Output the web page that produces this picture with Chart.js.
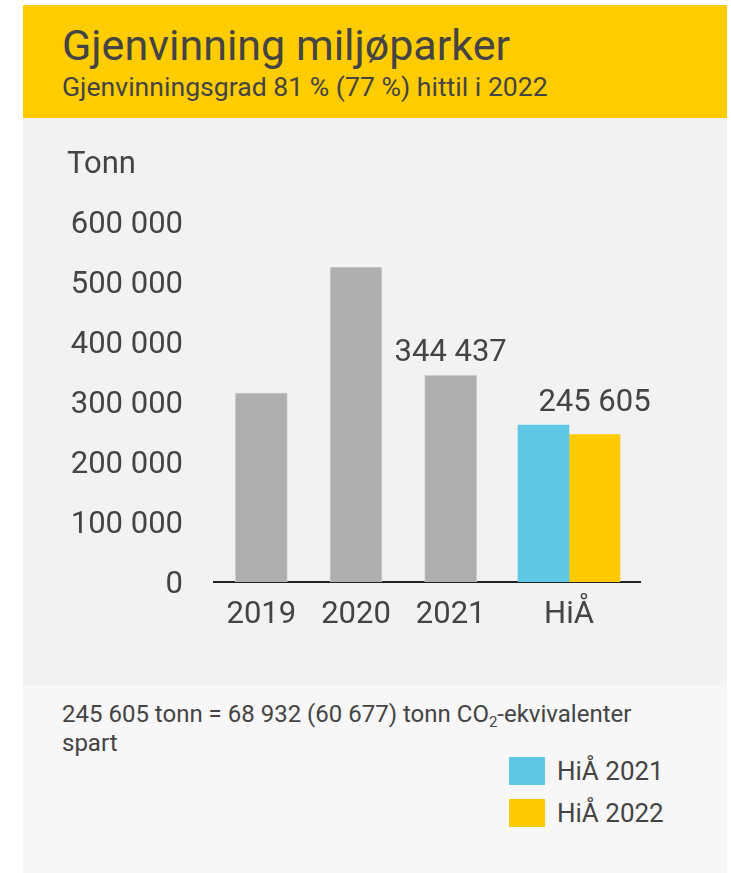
<!DOCTYPE html>
<html lang="no">
<head>
<meta charset="utf-8">
<title>Gjenvinning miljøparker</title>
<script src="https://cdn.jsdelivr.net/npm/chart.js@4"></script>
<style>
    body { margin: 0; background: #fff; font-family: Roboto, "Noto Sans", sans-serif; color: #444; }
    .card { position: absolute; left: 23px; top: 5px; width: 704px; height: 868px; }
    .header { position: absolute; left: 0; top: 0; width: 704px; height: 113px; background: #ffcc00; }
    .title { position: absolute; left: 39px; top: 19px; font-size: 43px; line-height: 1; white-space: nowrap; }
    .subtitle { position: absolute; left: 39px; top: 69px; font-size: 26.6px; line-height: 1; white-space: nowrap; }
    .panel { position: absolute; left: 0; top: 113px; width: 704px; height: 567px; background: #f2f2f2; }
    .unit { position: absolute; left: 44px; top: 29px; font-size: 31px; line-height: 1; }
    .chart-box { position: absolute; left: 0; top: 0; width: 704px; height: 567px; }
    .footer { position: absolute; left: 0; top: 680px; width: 704px; height: 188px; background: #f7f7f7; }
    .note { position: absolute; left: 39px; top: 15px; width: 590px; font-size: 24px; line-height: 29px; }
    .note sub { font-size: 15px; vertical-align: -5px; line-height: 0; }
    .legend { position: absolute; left: 486px; top: 72px; }
    .legend-item { display: flex; align-items: center; height: 28px; margin-bottom: 14px; font-size: 26px; }
    .legend-item span.box { display: inline-block; width: 36px; height: 28px; margin-right: 12px; }
</style>
</head>
<body>
<div class="card">
    <div class="header">
        <div class="title">Gjenvinning miljøparker</div>
        <div class="subtitle">Gjenvinningsgrad 81 % (77 %) hittil i 2022</div>
    </div>
    <div class="panel">
        <div class="chart-box"><canvas id="chart"></canvas></div>
        <div class="unit">Tonn</div>
    </div>
    <div class="footer">
        <div class="note">245 605 tonn = 68 932 (60 677) tonn CO<sub>2</sub>-ekvivalenter spart</div>
        <div class="legend" id="legend"></div>
    </div>
</div>
<script>
// categories and where they sit on the x axis (HiÅ group is set a bit apart)
const categories = ['2019', '2020', '2021', 'HiÅ'];
const categoryPos = [0, 1, 2, 3.25];

// values (tonn)
const yearTotals = [315000, 525000, 344437, null];
const hia2021 = [null, null, null, 261667];
const hia2022 = [null, null, null, 245605];

const yTicks = [0, 100000, 200000, 300000, 400000, 500000, 600000];

// which bars get a value label: [datasetIndex, dataIndex]
const valueLabels = [[0, 2], [2, 3]];

const TEXT = '#444';
const FONT = 'Roboto, "Noto Sans", sans-serif';

function fmt(v) {
    return String(Math.round(v)).replace(/\B(?=(\d{3})+(?!\d))/g, ' ');
}

function toPoints(values) {
    return values.map((v, i) => ({ x: categoryPos[i], y: v }));
}

// draws the numbers above the bars
const valueLabelPlugin = {
    id: 'valueLabels',
    afterDatasetsDraw(chart) {
        const ctx = chart.ctx;
        ctx.save();
        ctx.font = '31px ' + FONT;
        ctx.fillStyle = TEXT;
        ctx.textAlign = 'center';
        ctx.textBaseline = 'alphabetic';
        valueLabels.forEach(([ds, idx]) => {
            const bar = chart.getDatasetMeta(ds).data[idx];
            // sit above the tallest bar in that category
            let top = bar.y;
            chart.data.datasets.forEach((d, j) => {
                const el = chart.getDatasetMeta(j).data[idx];
                if (d.data[idx].y != null && el.y < top) top = el.y;
            });
            ctx.fillText(fmt(chart.data.datasets[ds].data[idx].y), bar.x, top - 14);
        });
        ctx.restore();
    }
};

const chart = new Chart(document.getElementById('chart'), {
    type: 'bar',
    data: {
        datasets: [
            {
                label: 'Totalt',
                data: toPoints(yearTotals),
                backgroundColor: '#afafaf',
                borderColor: '#cdcdcd',
                borderWidth: 1,
                barThickness: 52,
                inLegend: false
            },
            {
                label: 'HiÅ 2021',
                data: toPoints(hia2021),
                backgroundColor: '#5ec8e5',
                barThickness: 51,
                inLegend: true
            },
            {
                label: 'HiÅ 2022',
                data: toPoints(hia2022),
                backgroundColor: '#ffcb00',
                barThickness: 51,
                inLegend: true
            }
        ]
    },
    options: {
        responsive: true,
        maintainAspectRatio: false,
        animation: false,
        skipNull: true,
        layout: { padding: { top: 104, right: 87, left: 0, bottom: 0 } },
        plugins: {
            legend: { display: false },
            tooltip: { enabled: false }
        },
        scales: {
            x: {
                type: 'linear',
                min: -0.5,
                max: 4,
                offset: false,
                afterBuildTicks: scale => { scale.ticks = categoryPos.map(v => ({ value: v })); },
                afterFit: scale => { scale.height = 103; },
                grid: { display: false, drawTicks: false, offset: false },
                border: { display: true, color: '#222', width: 2 },
                ticks: {
                    autoSkip: false,
                    maxRotation: 0,
                    padding: 15,
                    color: TEXT,
                    font: { family: FONT, size: 31 },
                    callback: (value, i) => categories[i]
                }
            },
            y: {
                min: 0,
                max: 600000,
                afterBuildTicks: scale => { scale.ticks = yTicks.map(v => ({ value: v })); },
                afterFit: scale => { scale.width = 191; },
                grid: { display: false, drawTicks: false },
                border: { display: false },
                ticks: {
                    padding: 31,
                    labelOffset: 3,
                    color: TEXT,
                    font: { family: FONT, size: 31 },
                    callback: v => fmt(v)
                }
            }
        }
    },
    plugins: [valueLabelPlugin]
});

// legend as html under the chart
document.getElementById('legend').innerHTML = chart.data.datasets
    .filter(d => d.inLegend)
    .map(d => `<div class="legend-item"><span class="box" style="background:${d.backgroundColor}"></span>${d.label}</div>`)
    .join('');
</script>
</body>
</html>
